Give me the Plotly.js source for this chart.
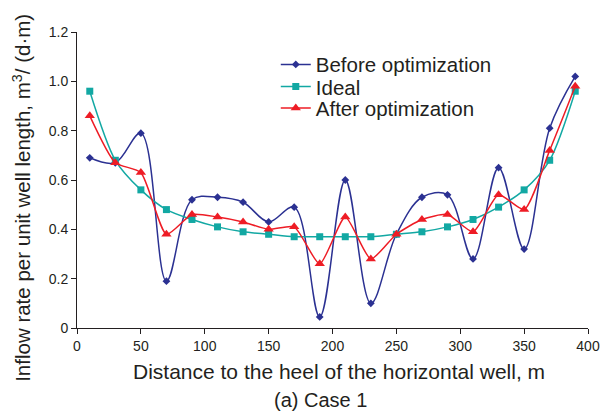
<!DOCTYPE html>
<html>
<head>
<meta charset="utf-8">
<script src="https://cdn.plot.ly/plotly-3.0.1.min.js"></script>
<style>html,body{margin:0;padding:0;background:#fff;}#chart{width:601px;height:412px;}</style>
</head>
<body>
<div id="chart"></div>
<script>
const distance = [10,30,50,70,90,110,130,150,170,190,210,230,250,270,290,310,330,350,370,390];
const beforeOpt = [0.69,0.67,0.79,0.19,0.52,0.53,0.51,0.43,0.49,0.045,0.60,0.10,0.38,0.53,0.54,0.28,0.65,0.32,0.81,1.02];
const ideal = [0.96,0.68,0.56,0.48,0.44,0.41,0.39,0.38,0.37,0.37,0.37,0.37,0.38,0.39,0.41,0.44,0.49,0.56,0.68,0.96];
const afterOpt = [0.86,0.67,0.63,0.38,0.46,0.45,0.43,0.40,0.41,0.26,0.45,0.28,0.38,0.44,0.46,0.39,0.54,0.48,0.72,0.98];
const xTicks = [0,50,100,150,200,250,300,350,400];
const yTicks = [0,0.2,0.4,0.6,0.8,1.0,1.2];
const yTickText = ['0','0.2','0.4','0.6','0.8','1.0','1.2'];

const FONT = 'Liberation Sans, Arial, Helvetica, sans-serif';
const BLUE = '#2b3192', TEAL = '#12a8a3', RED = '#ee1c25';

const traces = [
  {x: distance, y: beforeOpt, name: 'Before optimization', mode: 'lines+markers', legend: 'legend',
   line: {color: BLUE, width: 1.5, shape: 'spline', smoothing: 1.0},
   marker: {symbol: 'diamond', size: 6, color: BLUE}},
  {x: distance, y: ideal, name: 'Ideal', mode: 'lines+markers', legend: 'legend2',
   line: {color: TEAL, width: 1.5, shape: 'spline', smoothing: 0.8},
   marker: {symbol: 'square', size: 7, color: TEAL}},
  {x: distance, y: afterOpt, name: 'After optimization', mode: 'lines+markers', legend: 'legend3',
   line: {color: RED, width: 1.5, shape: 'spline', smoothing: 0.6},
   marker: {symbol: 'triangle-up', size: 9, color: RED}}
];

const legFont = {family: FONT, size: 20.5, color: '#231f20'};
const legBase = {xanchor: 'left', yanchor: 'middle', bgcolor: 'rgba(0,0,0,0)', font: legFont, itemwidth: 30};

const layout = {
  width: 601, height: 412,
  margin: {l: 77, r: 13, t: 32, b: 84},
  paper_bgcolor: '#fff', plot_bgcolor: '#fff',
  font: {family: FONT, size: 14, color: '#231f20'},
  showlegend: true,
  legend: Object.assign({x: 0.389, y: 0.89}, legBase),
  legend2: Object.assign({x: 0.389, y: 0.815}, legBase),
  legend3: Object.assign({x: 0.389, y: 0.743}, legBase),
  xaxis: {range: [0, 400], tickvals: xTicks, ticks: 'outside', ticklen: 5, tickcolor: '#231f20',
          showline: true, linecolor: '#231f20', linewidth: 1, showgrid: false, zeroline: false,
          tickfont: {size: 14}},
  yaxis: {range: [0, 1.2], tickvals: yTicks, ticktext: yTickText, ticks: 'outside', ticklen: 5, tickcolor: '#231f20',
          showline: true, linecolor: '#231f20', linewidth: 1, showgrid: false, zeroline: false,
          tickfont: {size: 14}},
  annotations: [
    {text: 'Distance to the heel of the horizontal well, m', xref: 'paper', yref: 'paper',
     x: 0.513, y: -0.147, xanchor: 'center', yanchor: 'middle', showarrow: false, font: {size: 21}},
    {text: '(a) Case 1', xref: 'paper', yref: 'paper',
     x: 0.477, y: -0.243, xanchor: 'center', yanchor: 'middle', showarrow: false, font: {size: 20}},
    {text: 'Inflow rate per unit well length, m<sup>3</sup>/ (d·m)', xref: 'paper', yref: 'paper',
     x: -0.108, y: 0.439, xanchor: 'center', yanchor: 'middle', showarrow: false, textangle: -90, font: {size: 20.5}}
  ]
};

Plotly.newPlot('chart', traces, layout, {displayModeBar: false, staticPlot: true});
</script>
</body>
</html>
